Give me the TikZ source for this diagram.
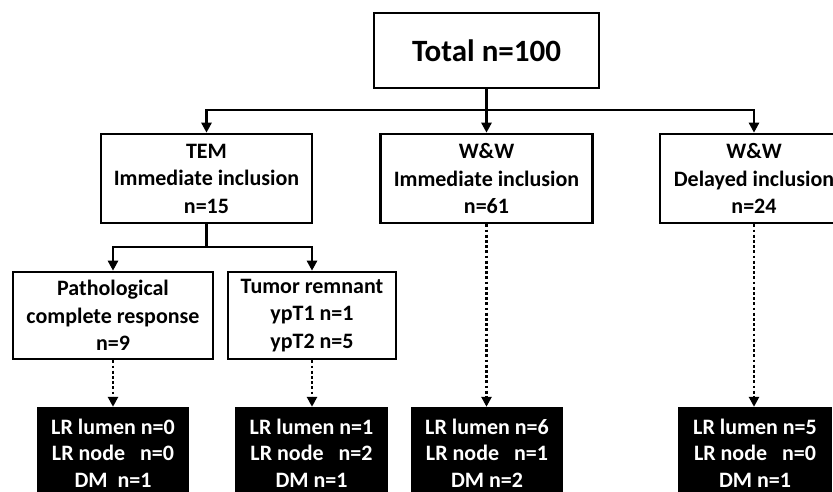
\documentclass[tikz,border=0pt]{standalone}
\usepackage{fontspec}
\setmainfont{Carlito}
\usetikzlibrary{arrows.meta}
\tikzset{
  wbox/.style={draw=black, line width=2.6pt, fill=white, align=center, inner sep=0pt,
    font=\bfseries\fontsize{22}{27.5}\selectfont},
  bbox/.style={fill=black, text=white, align=center, inner sep=0pt,
    font=\bfseries\fontsize{22}{26.5}\selectfont},
  arr/.style={line width=2.8pt, -{Triangle[length=10pt,width=10pt]}},
  plain/.style={line width=2.8pt},
  dots/.style={line width=2.8pt, dash pattern=on 2.8pt off 2.4pt, -{Triangle[length=10pt,width=10pt]}},
}
\begin{document}
\begin{tikzpicture}[x=1pt,y=-1pt]
\path[use as bounding box, clip] (0,0) rectangle (833,492);
\fill[white] (0,0) rectangle (833,492);

\node[wbox, minimum width=225pt, minimum height=75pt, font=\bfseries\fontsize{31}{36}\selectfont] (total) at (486.5,50.5) {Total n=100};

\node[wbox, minimum width=211pt, minimum height=89pt] (tem) at (206.5,178.5) {TEM\\Immediate inclusion\\n=15};
\node[wbox, minimum width=212pt, minimum height=89pt] (imm) at (486.5,178.5) {W\&W\\Immediate inclusion\\n=61};
\node[wbox, minimum width=188pt, minimum height=89pt] (del) at (754,178.5) {W\&W\\Delayed inclusion\\n=24};

\node[wbox, minimum width=200pt, minimum height=87pt] (pcr) at (113,315.5) {Pathological\\complete response\\n=9};
\node[wbox, minimum width=168pt, minimum height=87pt] (tum) at (312,315.5) {Tumor remnant\\ypT1 n=1\\ypT2 n=5};

\node[bbox, minimum width=152pt, minimum height=92pt] (b1) at (113,453) {LR lumen n=0\\LR node\ \ \ n=0\\DM\ \ n=1};
\node[bbox, minimum width=153pt, minimum height=92pt] (b2) at (311.5,453) {LR lumen n=1\\LR node\ \ \ n=2\\DM n=1};
\node[bbox, minimum width=152pt, minimum height=92pt] (b3) at (487,453) {LR lumen n=6\\LR node\ \ \ n=1\\DM n=2};
\node[bbox, minimum width=154pt, minimum height=92pt] (b4) at (755,453) {LR lumen n=5\\LR node\ \ \ n=0\\DM n=1};

\coordinate (j1) at (486.5,110);
\draw[plain] (total.south) -- (j1);
\draw[arr] (j1) -| (tem.north);
\draw[arr] (j1) -- (imm.north);
\draw[arr] (j1) -| (del.north);

\coordinate (j2) at (206.5,247);
\draw[plain] (tem.south) -- (j2);
\draw[arr] (j2) -| (pcr.north);
\draw[arr] (j2) -| (tum.north);

\draw[dots] (pcr.south) -- (pcr.south |- b1.north);
\draw[dots] (tum.south) -- (tum.south |- b2.north);
\draw[dots] (imm.south) -- (imm.south |- b3.north);
\draw[dots] (del.south) -- (del.south |- b4.north);
\end{tikzpicture}
\end{document}
